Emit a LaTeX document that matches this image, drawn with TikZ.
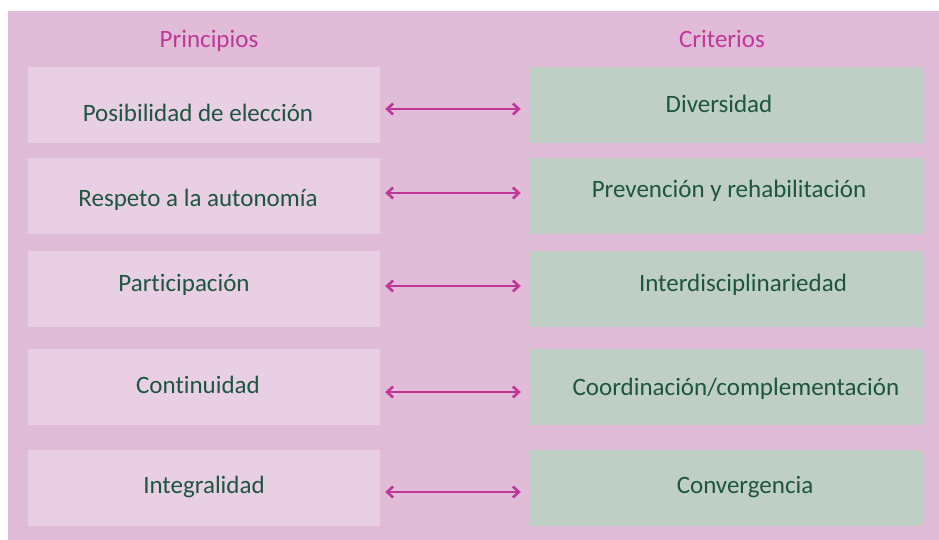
\documentclass[tikz,border=0pt]{standalone}
\usepackage{fontspec}
\setmainfont[Ligatures={NoCommon}]{Carlito}
\usetikzlibrary{arrows.meta}
\definecolor{bgpink}{HTML}{E1BCD8}
\definecolor{lbox}{HTML}{E9CFE4}
\definecolor{rbox}{HTML}{BFCFC6}
\definecolor{txtgreen}{HTML}{1D5540}
\definecolor{magen}{HTML}{C0379A}
\tikzset{
  lboxst/.style={rectangle, fill=lbox, draw=none, minimum width=352pt, minimum height=76pt, inner sep=0pt},
  rboxst/.style={rectangle, fill=rbox, draw=none, minimum width=394pt, minimum height=76pt, inner sep=0pt},
  lbl/.style={anchor=base, inner sep=0pt, text=txtgreen, font=\fontsize{25}{30}\selectfont},
  hdr/.style={anchor=base, inner sep=0pt, text=magen, font=\fontsize{25}{30}\selectfont},
  arr/.style={magen, line width=2.6pt, {Straight Barb[length=6pt,width=11pt,line width=2.6pt]}-{Straight Barb[length=6pt,width=11pt,line width=2.6pt]}}
}
\begin{document}
\begin{tikzpicture}[x=1pt,y=-1pt]
\useasboundingbox (0,0) rectangle (939,540);
\fill[bgpink] (8,11) rectangle (939,540);
\node[hdr] (hp) at (209,48) {Principios};
\node[hdr] (hc) at (722,48) {Criterios};
% boxes
\node[lboxst] (L1) at (204,105) {};
\node[lboxst] (L2) at (204,196) {};
\node[lboxst] (L3) at (204,289) {};
\node[lboxst] (L4) at (204,387) {};
\node[lboxst] (L5) at (204,488) {};
\node[rboxst] (R1) at (727,105) {};
\node[rboxst] (R2) at (727,196) {};
\node[rboxst] (R3) at (727,289) {};
\node[rboxst] (R4) at (727,387) {};
\node[rboxst] (R5) at (727,488) {};
% texts
\node[lbl] (tl1) at (198,122) {Posibilidad de elección};
\node[lbl] (tl2) at (198,206) {Respeto a la autonomía};
\node[lbl] (tl3) at (184,291) {Participación};
\node[lbl] (tl4) at (198,393) {Continuidad};
\node[lbl] (tl5) at (204,493) {Integralidad};
\node[lbl] (tr1) at (719,113) {Diversidad};
\node[lbl] (tr2) at (729,197) {Prevención y rehabilitación};
\node[lbl] (tr3) at (743,291) {Interdisciplinariedad};
\node[lbl] (tr4) at (736,395) {Coordinación/complementación};
\node[lbl] (tr5) at (745,493) {Convergencia};
% arrows
\draw[arr] ([shift={(5,4)}]L1.east) -- ([shift={(-9,4)}]R1.west);
\draw[arr] ([shift={(5,-3)}]L2.east) -- ([shift={(-9,-3)}]R2.west);
\draw[arr] ([shift={(5,-3)}]L3.east) -- ([shift={(-9,-3)}]R3.west);
\draw[arr] ([shift={(5,5)}]L4.east) -- ([shift={(-9,5)}]R4.west);
\draw[arr] ([shift={(5,4)}]L5.east) -- ([shift={(-9,4)}]R5.west);
\end{tikzpicture}
\end{document}
